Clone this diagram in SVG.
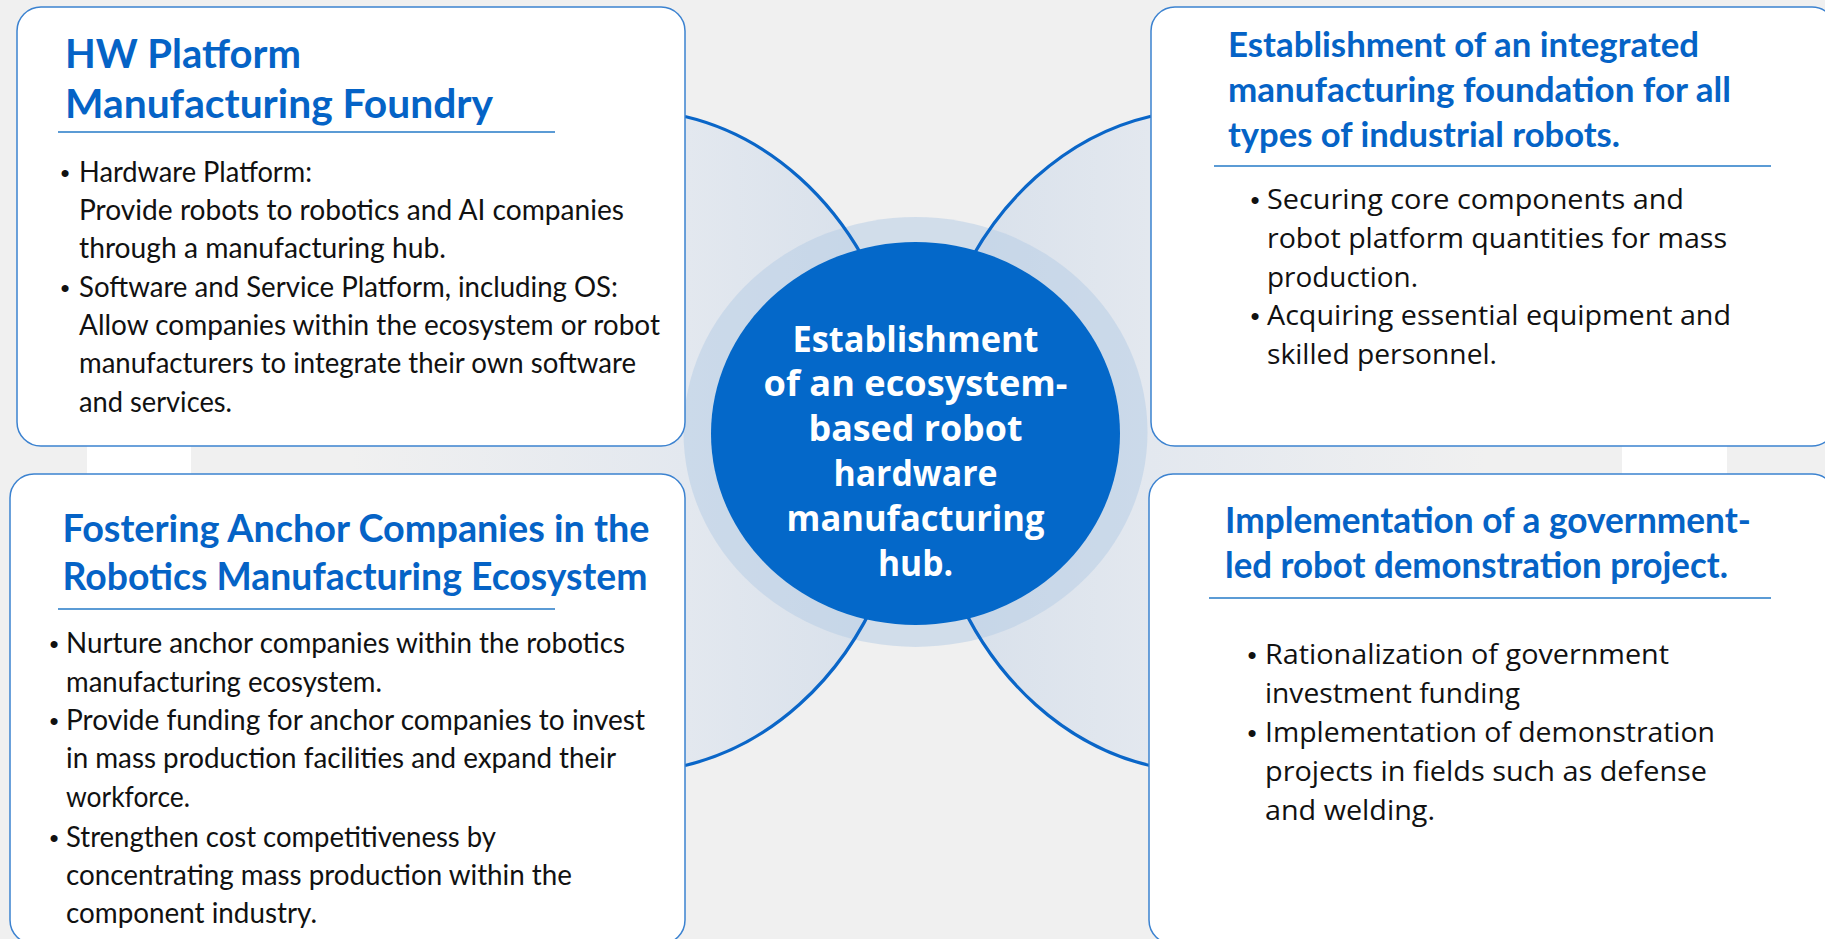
<svg xmlns="http://www.w3.org/2000/svg" width="1825" height="939" viewBox="0 0 1825 939">
  <defs>
    <linearGradient id="gradL" x1="350" y1="0" x2="910" y2="0" gradientUnits="userSpaceOnUse">
      <stop offset="0" stop-color="#f0f0f0"/>
      <stop offset="0.6" stop-color="#e3e8ef"/>
      <stop offset="1" stop-color="#d6dfea"/>
    </linearGradient>
    <linearGradient id="gradR" x1="1485" y1="0" x2="925" y2="0" gradientUnits="userSpaceOnUse">
      <stop offset="0" stop-color="#f0f0f0"/>
      <stop offset="0.6" stop-color="#e3e8ef"/>
      <stop offset="1" stop-color="#d6dfea"/>
    </linearGradient>
    <style>
      .box { fill: #ffffff; stroke: #3b82d0; stroke-width: 1.5; }
      .rule { stroke: #5b9bd5; stroke-width: 2; fill: none; }
      .arc { fill: none; stroke: #0a66c8; stroke-width: 3.2; }
      .ttl { font-family: Lato, "Liberation Sans", sans-serif; font-weight: 700; fill: #0563c6; }
      .t1 { font-size: 41px; }
      .t2 { font-size: 38px; }
      .t3 { font-size: 35px; }
      .t4 { font-size: 37px; }
      .bl { font-family: Lato, "Liberation Sans", sans-serif; font-size: 29px; fill: #111111; }
      .br { font-family: "Open Sans", "Liberation Sans", sans-serif; font-size: 28px; fill: #111111; }
      .dot { font-family: "Liberation Sans", sans-serif; font-size: 26px; fill: #111111; text-anchor: middle; }
      .ctr { font-family: "Open Sans", "Liberation Sans", sans-serif; font-weight: 700; font-size: 35px; fill: #ffffff; text-anchor: middle; }
    </style>
  </defs>

  <rect x="0" y="0" width="1825" height="939" fill="#f0f0f0"/>

  <g id="backdrop">
    <rect x="87" y="420" width="104" height="80" fill="#ffffff"/>
    <rect x="1622" y="420" width="105" height="80" fill="#ffffff"/>
    <ellipse cx="630" cy="441" rx="280" ry="331" fill="url(#gradL)"/>
    <ellipse cx="1205" cy="441" rx="280" ry="331" fill="url(#gradR)"/>
    <ellipse cx="915.5" cy="432" rx="232" ry="215" fill="#b8cde5" opacity="0.55"/>
  </g>

  <g id="connectors">
    <path class="arc" d="M 685 116.5 A 280 331 0 0 1 880 292"/>
    <path class="arc" d="M 685 765.5 A 280 331 0 0 0 880 590"/>
    <path class="arc" d="M 1151 116.2 A 280 331 0 0 0 955 292"/>
    <path class="arc" d="M 1151 765.8 A 280 331 0 0 1 955 590"/>
  </g>

  <g id="node-center">
    <ellipse cx="915.5" cy="433.5" rx="204.5" ry="191.5" fill="#0468c9"/>
    <text class="ctr" x="915.5" y="352" textLength="246" lengthAdjust="spacingAndGlyphs">Establishment</text>
    <text class="ctr" x="915.5" y="396" textLength="304" lengthAdjust="spacingAndGlyphs">of an ecosystem-</text>
    <text class="ctr" x="915.5" y="441" textLength="214" lengthAdjust="spacingAndGlyphs">based robot</text>
    <text class="ctr" x="915.5" y="486" textLength="164" lengthAdjust="spacingAndGlyphs">hardware</text>
    <text class="ctr" x="915.5" y="531" textLength="258" lengthAdjust="spacingAndGlyphs">manufacturing</text>
    <text class="ctr" x="915.5" y="576" textLength="75" lengthAdjust="spacingAndGlyphs">hub.</text>
  </g>

  <g id="node-hw-platform">
    <rect class="box" x="17" y="7" width="668" height="439" rx="24"/>
    <text class="ttl t1" x="65" y="68" textLength="236" lengthAdjust="spacingAndGlyphs">HW Platform</text>
    <text class="ttl t1" x="65" y="118" textLength="428" lengthAdjust="spacingAndGlyphs">Manufacturing Foundry</text>
    <line class="rule" x1="58" y1="132" x2="555" y2="132"/>
    <text class="dot" x="65" y="182">•</text>
    <text class="bl" x="79" y="182" textLength="233" lengthAdjust="spacingAndGlyphs">Hardware Platform:</text>
    <text class="bl" x="79" y="220" textLength="545" lengthAdjust="spacingAndGlyphs">Provide robots to robotics and AI companies</text>
    <text class="bl" x="79" y="258" textLength="367" lengthAdjust="spacingAndGlyphs">through a manufacturing hub.</text>
    <text class="dot" x="65" y="297">•</text>
    <text class="bl" x="79" y="297" textLength="539" lengthAdjust="spacingAndGlyphs">Software and Service Platform, including OS:</text>
    <text class="bl" x="79" y="335" textLength="581" lengthAdjust="spacingAndGlyphs">Allow companies within the ecosystem or robot</text>
    <text class="bl" x="79" y="373" textLength="557" lengthAdjust="spacingAndGlyphs">manufacturers to integrate their own software</text>
    <text class="bl" x="79" y="412" textLength="153" lengthAdjust="spacingAndGlyphs">and services.</text>
  </g>

  <g id="node-anchor-companies">
    <rect class="box" x="10" y="474" width="675" height="470" rx="24"/>
    <text class="ttl t2" x="62.5" y="542" textLength="587" lengthAdjust="spacingAndGlyphs">Fostering Anchor Companies in the</text>
    <text class="ttl t2" x="62.5" y="590" textLength="585" lengthAdjust="spacingAndGlyphs">Robotics Manufacturing Ecosystem</text>
    <line class="rule" x1="58" y1="609" x2="555" y2="609"/>
    <text class="dot" x="54" y="653">•</text>
    <text class="bl" x="66" y="653" textLength="559" lengthAdjust="spacingAndGlyphs">Nurture anchor companies within the robotics</text>
    <text class="bl" x="66" y="692" textLength="316" lengthAdjust="spacingAndGlyphs">manufacturing ecosystem.</text>
    <text class="dot" x="54" y="730">•</text>
    <text class="bl" x="66" y="730" textLength="579" lengthAdjust="spacingAndGlyphs">Provide funding for anchor companies to invest</text>
    <text class="bl" x="66" y="768" textLength="550" lengthAdjust="spacingAndGlyphs">in mass production facilities and expand their</text>
    <text class="bl" x="66" y="807" textLength="124" lengthAdjust="spacingAndGlyphs">workforce.</text>
    <text class="dot" x="54" y="847">•</text>
    <text class="bl" x="66" y="847" textLength="430" lengthAdjust="spacingAndGlyphs">Strengthen cost competitiveness by</text>
    <text class="bl" x="66" y="885" textLength="506" lengthAdjust="spacingAndGlyphs">concentrating mass production within the</text>
    <text class="bl" x="66" y="923" textLength="251" lengthAdjust="spacingAndGlyphs">component industry.</text>
  </g>

  <g id="node-integrated-foundation">
    <rect class="box" x="1151" y="7" width="685" height="439" rx="24"/>
    <text class="ttl t3" x="1228" y="57" textLength="471" lengthAdjust="spacingAndGlyphs">Establishment of an integrated</text>
    <text class="ttl t3" x="1228" y="102" textLength="503" lengthAdjust="spacingAndGlyphs">manufacturing foundation for all</text>
    <text class="ttl t3" x="1228" y="147" textLength="392" lengthAdjust="spacingAndGlyphs">types of industrial robots.</text>
    <line class="rule" x1="1214" y1="166" x2="1771" y2="166"/>
    <text class="dot" x="1255" y="209">•</text>
    <text class="br" x="1267" y="209" textLength="417" lengthAdjust="spacingAndGlyphs">Securing core components and</text>
    <text class="br" x="1267" y="248" textLength="460" lengthAdjust="spacingAndGlyphs">robot platform quantities for mass</text>
    <text class="br" x="1267" y="287" textLength="151" lengthAdjust="spacingAndGlyphs">production.</text>
    <text class="dot" x="1255" y="325">•</text>
    <text class="br" x="1267" y="325" textLength="464" lengthAdjust="spacingAndGlyphs">Acquiring essential equipment and</text>
    <text class="br" x="1267" y="364" textLength="230" lengthAdjust="spacingAndGlyphs">skilled personnel.</text>
  </g>

  <g id="node-demonstration">
    <rect class="box" x="1149" y="474" width="687" height="470" rx="24"/>
    <text class="ttl t4" x="1225" y="533" textLength="526" lengthAdjust="spacingAndGlyphs">Implementation of a government-</text>
    <text class="ttl t4" x="1225" y="578" textLength="503" lengthAdjust="spacingAndGlyphs">led robot demonstration project.</text>
    <line class="rule" x1="1209" y1="598" x2="1771" y2="598"/>
    <text class="dot" x="1252" y="664">•</text>
    <text class="br" x="1265" y="664" textLength="404" lengthAdjust="spacingAndGlyphs">Rationalization of government</text>
    <text class="br" x="1265" y="703" textLength="255" lengthAdjust="spacingAndGlyphs">investment funding</text>
    <text class="dot" x="1252" y="742">•</text>
    <text class="br" x="1265" y="742" textLength="450" lengthAdjust="spacingAndGlyphs">Implementation of demonstration</text>
    <text class="br" x="1265" y="781" textLength="442" lengthAdjust="spacingAndGlyphs">projects in fields such as defense</text>
    <text class="br" x="1265" y="820" textLength="170" lengthAdjust="spacingAndGlyphs">and welding.</text>
  </g>
</svg>
